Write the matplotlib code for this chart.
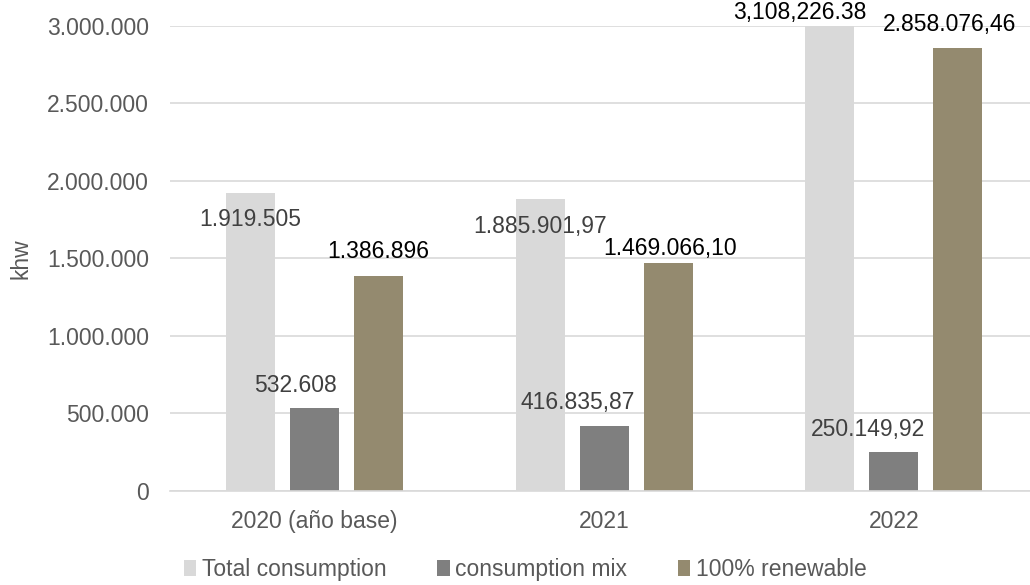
import numpy as np
import matplotlib.pyplot as plt

# --- dades ---
years = ['2020 (año base)', '2021', '2022']
total = [1919505, 1885901.97, 3108226.38]
mix = [532608, 416835.87, 250149.92]
renewable = [1386896, 1469066.10, 2858076.46]

total_lbl = ['1.919.505', '1.885.901,97', '3,108,226.38']
mix_lbl = ['532.608', '416.835,87', '250.149,92']
ren_lbl = ['1.386.896', '1.469.066,10', '2.858.076,46']

series_names = ['Total consumption', 'consumption mix', '100% renewable']
colors = ['#D9D9D9', '#7F7F7F', '#948A6F']

# desplaçaments de les etiquetes (px): dx, dy respecte al cim de la barra
total_off = [(0, -26), (0, -28), (-30, 13)]
mix_off = [(-19, 23), (-27, 24), (-26, 23)]
ren_off = [(0, 25), (2, 15), (-8, 23)]
total_col = ['#404040', '#404040', '#000000']

plt.rcParams['font.family'] = ['Liberation Sans', 'DejaVu Sans']
FS = 16.5
PX = 0.72  # px -> punts a 100 dpi

fig = plt.figure(figsize=(10.3, 5.85), dpi=100)
ax = fig.add_axes([0.165, 0.1607, 0.835, 0.7949])

x = np.arange(len(years))
w = 0.169
step = 0.221
ymax = 3000000

groups = [(total, total_lbl, total_off, -step, total_col),
          (mix, mix_lbl, mix_off, 0, ['#404040'] * 3),
          (renewable, ren_lbl, ren_off, step, ['#000000'] * 3)]

for i, (vals, lbls, offs, shift, cols) in enumerate(groups):
    ax.bar(x + shift, vals, width=w, color=colors[i], label=series_names[i], zorder=2)
    for xi, v, t, (dx, dy), c in zip(x, vals, lbls, offs, cols):
        ax.annotate(t, (xi + shift, min(v, ymax)), xytext=(dx * PX, dy * PX),
                    textcoords='offset points', ha='center', va='center',
                    fontsize=FS, color=c, annotation_clip=False)

ax.set_ylim(0, ymax)
ax.set_xlim(-0.5, 2.47)
ax.set_yticks(np.arange(0, 3000001, 500000))
ax.set_yticklabels(['0', '500.000', '1.000.000', '1.500.000', '2.000.000',
                    '2.500.000', '3.000.000'])
ax.set_xticks(x)
ax.set_xticklabels(years)
ax.tick_params(axis='both', length=0, labelsize=FS, labelcolor='#595959')
ax.tick_params(axis='y', pad=15)
ax.tick_params(axis='x', pad=14)

ax.grid(axis='y', color='#D9D9D9', linewidth=1.2, zorder=0)
for s in ['top', 'right', 'left']:
    ax.spines[s].set_visible(False)
ax.spines['bottom'].set_color('#D9D9D9')
ax.spines['bottom'].set_linewidth(1.2)

ax.set_ylabel('khw', fontsize=FS, color='#595959')
ax.yaxis.set_label_coords(-0.16, 0.5)

ax.legend(loc='center', bbox_to_anchor=(0.413, -0.168), ncol=3, frameon=False,
          fontsize=FS, labelcolor='#595959', handlelength=0.55, handleheight=0.7,
          handletextpad=0.25, columnspacing=2.2)

fig.savefig('out.png', dpi=100)
